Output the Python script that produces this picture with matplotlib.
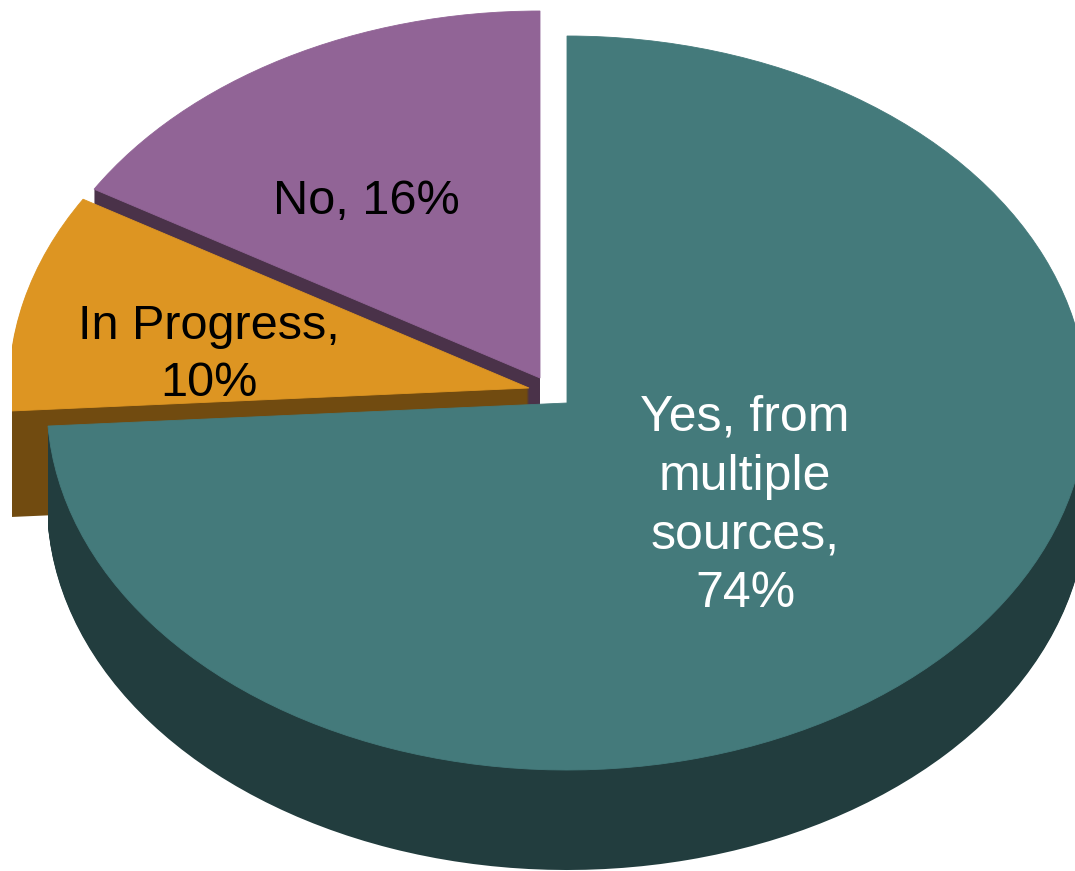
import matplotlib
matplotlib.use("Agg")
import matplotlib.pyplot as plt
from matplotlib.patches import Rectangle

labels = ["Yes, from\nmultiple\nsources,\n74%", "In Progress,\n10%", "No, 16%"]
values = [74.0, 9.6, 16.4]
top_colors = ["#447A7B", "#DD9522", "#916496"]
side_colors = ["#223D3E", "#714B10", "#4A3249"]
label_colors = ["white", "black", "black"]
label_sizes = [36, 35, 35]

# pixel layout of the picture
W, H = 1075, 871
RX, RY = 520, 367
LEFT_CLIP = 12
apex = [(567, 403), (529, 388), (540, 378)]
depths = [100, 106, 60]
label_pos = [(745, 506), (209, 355), (366, 202)]


def to_x(px):
    return (px - 567) / RX


def to_y(py):
    return (403 - py) / RY


plt.rcParams["font.family"] = ["Liberation Sans", "DejaVu Sans"]
fig = plt.figure(figsize=(W / 100, H / 100), dpi=100)
ax = fig.add_axes([0, 0, 1, 1])

drawn = []
# far slices first, the big one goes on top of them
for i in [2, 1, 0]:
    start = 90 - 3.6 * sum(values[:i])
    for d in range(depths[i], -1, -1):
        color = top_colors[i] if d == 0 else side_colors[i]
        wedges, _ = ax.pie(
            [values[i], 100 - values[i]],
            colors=[color, "none"],
            startangle=start,
            counterclock=False,
            center=(to_x(apex[i][0]), to_y(apex[i][1] + d)),
            radius=1,
            wedgeprops={"linewidth": 0.6 if d == 0 else 0, "edgecolor": color},
        )
        wedges[1].set_visible(False)
        drawn.append(wedges[0])

ax.set_aspect("auto")
ax.set_xlim(to_x(0), to_x(W))
ax.set_ylim(to_y(H), to_y(0))
ax.axis("off")

# the left side of the chart is cut off straight
clip = Rectangle((to_x(LEFT_CLIP), to_y(H)), to_x(W) - to_x(LEFT_CLIP), to_y(0) - to_y(H),
                 transform=ax.transData)
for w in drawn:
    w.set_clip_on(True)  # pie turns clipping off
    w.set_clip_path(clip)

for lab, pos, col, size in zip(labels, label_pos, label_colors, label_sizes):
    ax.text(to_x(pos[0]), to_y(pos[1]), lab, color=col, fontsize=size, ha="center",
            va="center", linespacing=1.36, zorder=500)

fig.savefig("out.png", dpi=100)
